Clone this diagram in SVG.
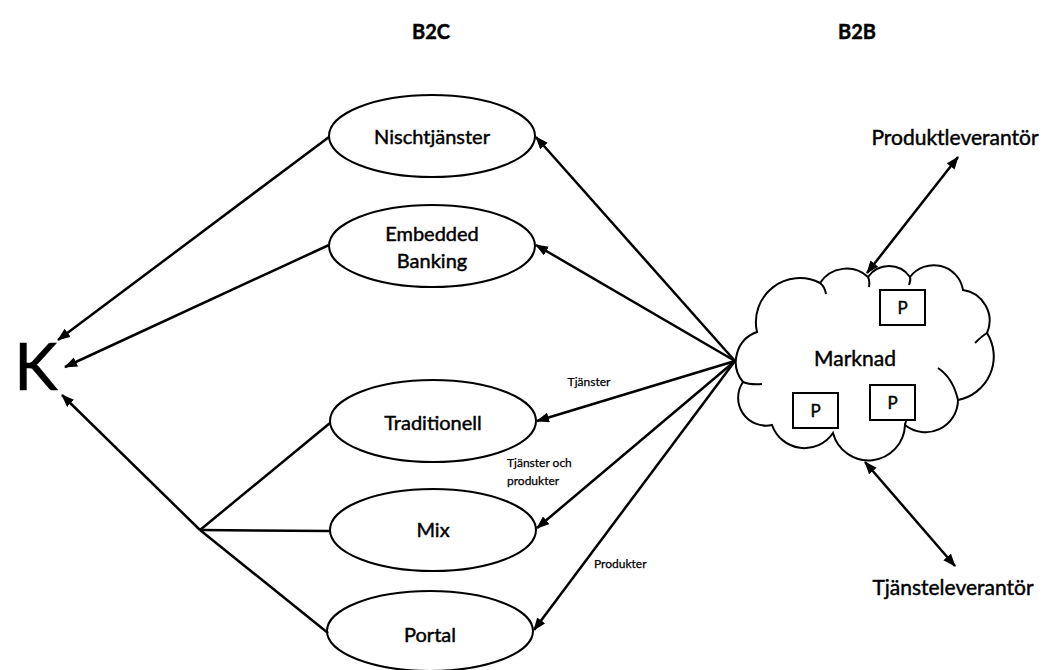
<svg xmlns="http://www.w3.org/2000/svg" width="1046" height="670" viewBox="0 0 1046 670">
<defs>
<marker id="ah" markerUnits="userSpaceOnUse" markerWidth="13" markerHeight="11" refX="12" refY="5" orient="auto-start-reverse">
<path d="M0,0 L13,5 L0,10 z" fill="#000"/>
</marker>
</defs>
<style>
text{font-family:Lato,"Liberation Sans",sans-serif;fill:#000;stroke:#000;stroke-width:0.45}
.c{text-anchor:middle}
.node ellipse{fill:#fff;stroke:#000;stroke-width:2}
.box{fill:#fff;stroke:#000;stroke-width:2}
.conn line{stroke:#000;stroke-width:2.5;fill:none}
.arr{marker-end:url(#ah)}
.dbl{marker-start:url(#ah);marker-end:url(#ah)}
.hook{fill:none;stroke:#000;stroke-width:2}
.sm{stroke-width:0.25}
</style>
<rect width="1046" height="670" fill="#fff"/>

<g id="headers">
<text class="c" x="431" y="39" font-size="20" font-weight="bold">B2C</text>
<text class="c" x="857" y="39" font-size="20" font-weight="bold">B2B</text>
</g>

<g id="K"><text x="14" y="390" font-size="66" stroke-width="1.6">K</text></g>

<g id="nischtjanster" class="node"><ellipse cx="432" cy="136" rx="103" ry="41"/><text class="c" x="432" y="144" font-size="20">Nischtjänster</text></g>
<g id="embedded" class="node"><ellipse cx="432" cy="246" rx="103" ry="41"/><text class="c" x="432" y="241" font-size="20">Embedded</text><text class="c" x="432" y="268" font-size="20">Banking</text></g>
<g id="traditionell" class="node"><ellipse cx="433" cy="421" rx="103" ry="41"/><text class="c" x="433" y="430" font-size="20">Traditionell</text></g>
<g id="mix" class="node"><ellipse cx="433" cy="530" rx="103" ry="41"/><text class="c" x="433" y="537" font-size="20">Mix</text></g>
<g id="portal" class="node"><ellipse cx="430" cy="631" rx="103" ry="40"/><text class="c" x="430" y="642" font-size="20">Portal</text></g>

<g id="marknad">
<path d="M757,332 A44,44 0 0 1 820,283 A31.7,31.7 0 0 1 868,277 A25.5,25.5 0 0 1 910,277 A29.7,29.7 0 0 1 963,290 A31,31 0 0 1 987,333 A44.3,44.3 0 0 1 958,400 A32.5,32.5 0 0 1 905,425 A36.6,36.6 0 0 1 833,433 A34.4,34.4 0 0 1 772,425 A27.9,27.9 0 0 1 743,382 A31.7,31.7 0 0 1 757,332 Z" fill="#fff" stroke="#000" stroke-width="2"/>
<path class="hook" d="M820,283 Q825,287 826,294"/>
<path class="hook" d="M868,277 Q870,281 869,287"/>
<path class="hook" d="M910,277 Q911,280 909,285"/>
<path class="hook" d="M975,343 Q982,336 987,333"/>
<path class="hook" d="M938,368 Q953,378 958,400"/>
<path class="hook" d="M906,414 Q907,420 905,425"/>
<path class="hook" d="M762,384 Q750,385 743,382"/>
<text class="c" x="855" y="366" font-size="21">Marknad</text>
<g id="p1"><rect class="box" x="880" y="290" width="45" height="35"/><text class="c" x="902.5" y="314" font-size="17">P</text></g>
<g id="p2"><rect class="box" x="793" y="393" width="45" height="35" stroke-width="2.6"/><text class="c" x="815.5" y="417" font-size="17">P</text></g>
<g id="p3"><rect class="box" x="870" y="385" width="45" height="35"/><text class="c" x="892.5" y="409" font-size="17">P</text></g>
</g>

<g id="produktleverantor"><text class="c" x="955" y="145" font-size="21">Produktleverantör</text></g>
<g id="tjansteleverantor"><text class="c" x="953" y="595" font-size="21">Tjänsteleverantör</text></g>

<g id="connectors" class="conn">
<line class="arr" x1="329" y1="137" x2="58" y2="340"/>
<line class="arr" x1="329" y1="245" x2="65" y2="367"/>
<line class="arr" x1="200" y1="530" x2="62" y2="395"/>
<line x1="200" y1="530" x2="330" y2="423"/>
<line x1="200" y1="530" x2="330" y2="531" stroke-width="3.2"/>
<line x1="200" y1="530" x2="328" y2="633"/>
<line class="arr" x1="735" y1="361" x2="536" y2="137"/>
<line class="arr" x1="735" y1="361" x2="536" y2="245"/>
<line class="arr" x1="735" y1="361" x2="537" y2="421"/>
<line class="arr" x1="735" y1="361" x2="537" y2="528"/>
<line class="arr" x1="735" y1="361" x2="534" y2="630"/>
<line class="dbl" x1="867" y1="273" x2="958" y2="157"/>
<line class="dbl" x1="865" y1="462" x2="955" y2="566"/>
</g>

<g id="edge-labels">
<text class="c sm" x="589" y="386" font-size="12">Tjänster</text>
<text class="sm" x="507" y="467" font-size="12">Tjänster och</text>
<text class="sm" x="507" y="485" font-size="12">produkter</text>
<text class="sm" x="594" y="568" font-size="12">Produkter</text>
</g>
</svg>
